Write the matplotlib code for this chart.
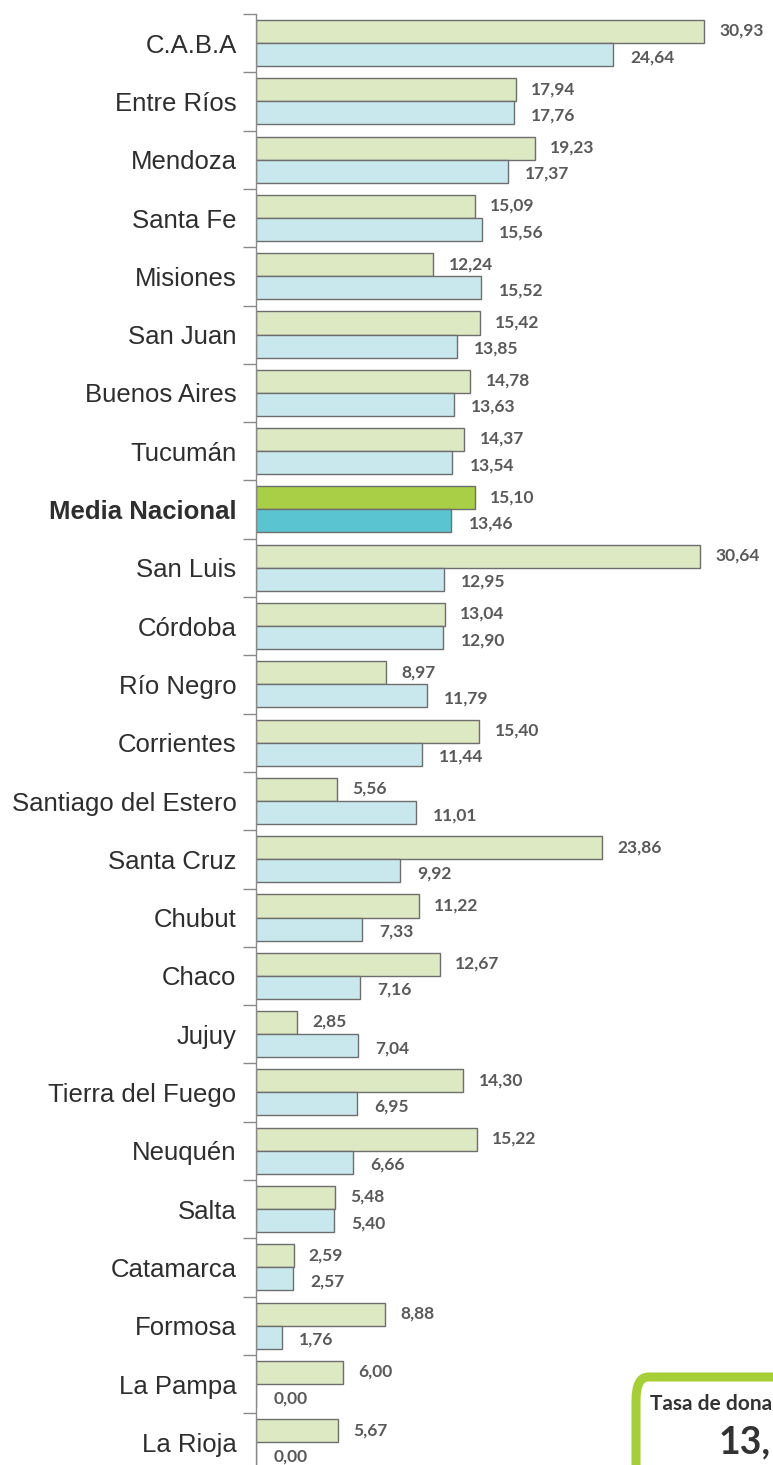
import matplotlib.pyplot as plt
from matplotlib.patches import FancyBboxPatch
import numpy as np

provincias = ['C.A.B.A', 'Entre Ríos', 'Mendoza', 'Santa Fe', 'Misiones', 'San Juan',
              'Buenos Aires', 'Tucumán', 'Media Nacional', 'San Luis', 'Córdoba',
              'Río Negro', 'Corrientes', 'Santiago del Estero', 'Santa Cruz', 'Chubut',
              'Chaco', 'Jujuy', 'Tierra del Fuego', 'Neuquén', 'Salta', 'Catamarca',
              'Formosa', 'La Pampa', 'La Rioja']
verde = [30.93, 17.94, 19.23, 15.09, 12.24, 15.42, 14.78, 14.37, 15.10, 30.64, 13.04,
         8.97, 15.40, 5.56, 23.86, 11.22, 12.67, 2.85, 14.30, 15.22, 5.48, 2.59,
         8.88, 6.00, 5.67]
celeste = [24.64, 17.76, 17.37, 15.56, 15.52, 13.85, 13.63, 13.54, 13.46, 12.95, 12.90,
           11.79, 11.44, 11.01, 9.92, 7.33, 7.16, 7.04, 6.95, 6.66, 5.40, 2.57,
           1.76, 0.00, 0.00]
media = 'Media Nacional'

W, H = 773, 1465
fig = plt.figure(figsize=(W / 100, H / 100), dpi=100)
# axes: left edge at 256px, top at 14px, 58.3px per province
top_px, pitch = 14, 58.3
bot_px = top_px + pitch * len(provincias)
ax = fig.add_axes([256 / W, 1 - bot_px / H, 507.5 / W, (bot_px - top_px) / H])

y = np.arange(len(provincias)) + 0.5
c_verde = ['#a8cf45' if p == media else '#dce9c2' for p in provincias]
c_cel = ['#5bc4d1' if p == media else '#c9e8ee' for p in provincias]

ax.barh(y - 0.2, verde, height=0.395, color=c_verde, edgecolor='#6e6e6e', linewidth=1)
ax.barh(y + 0.195, celeste, height=0.395, color=c_cel, edgecolor='#6e6e6e', linewidth=1)

for i in range(len(provincias)):
    ax.text(verde[i] + 1.05, y[i] - 0.21, f'{verde[i]:.2f}'.replace('.', ','),
            family='Lato', fontweight='bold', fontsize=12.5, color='#595959',
            va='center', ha='left')
    ax.text(celeste[i] + 1.2, y[i] + 0.24, f'{celeste[i]:.2f}'.replace('.', ','),
            family='Lato', fontweight='bold', fontsize=12.5, color='#595959',
            va='center', ha='left')

ax.set_xlim(0, 35)
ax.set_ylim(len(provincias), 0)
ax.set_yticks(y)
ax.set_yticklabels(provincias, family='Liberation Sans', fontsize=18.5, color='#2e2e2e')
for lab in ax.get_yticklabels():
    if lab.get_text() == media:
        lab.set_fontweight('bold')
ax.set_yticks(np.arange(len(provincias) + 1), minor=True)
ax.tick_params(axis='y', which='major', length=0, pad=14)
ax.tick_params(axis='y', which='minor', length=9.5, width=1, color='#8a8a8a')
ax.set_xticks([])
for s in ['top', 'right', 'bottom']:
    ax.spines[s].set_visible(False)
ax.spines['left'].set_color('#8a8a8a')
ax.spines['left'].set_linewidth(1)

# recuadro de la tasa (recortado por el borde, como en el original)
caja = FancyBboxPatch((636 / W, -0.05), 0.3, (1465 - 1377) / H + 0.05,
                      boxstyle='round,pad=0,rounding_size=0.016',
                      transform=fig.transFigure, facecolor='white',
                      edgecolor='#a6ce39', linewidth=6.5, zorder=5)
fig.patches.append(caja)
fig.text(650 / W, 1 - 1410 / H, 'Tasa de dona', family='Lato', fontweight='bold',
         fontsize=15, color='#333333', zorder=6)
fig.text(719 / W, 1 - 1453 / H, '13,', family='Lato', fontweight='bold',
         fontsize=27, color='#333333', zorder=6)

fig.savefig('out.png', dpi=100)
